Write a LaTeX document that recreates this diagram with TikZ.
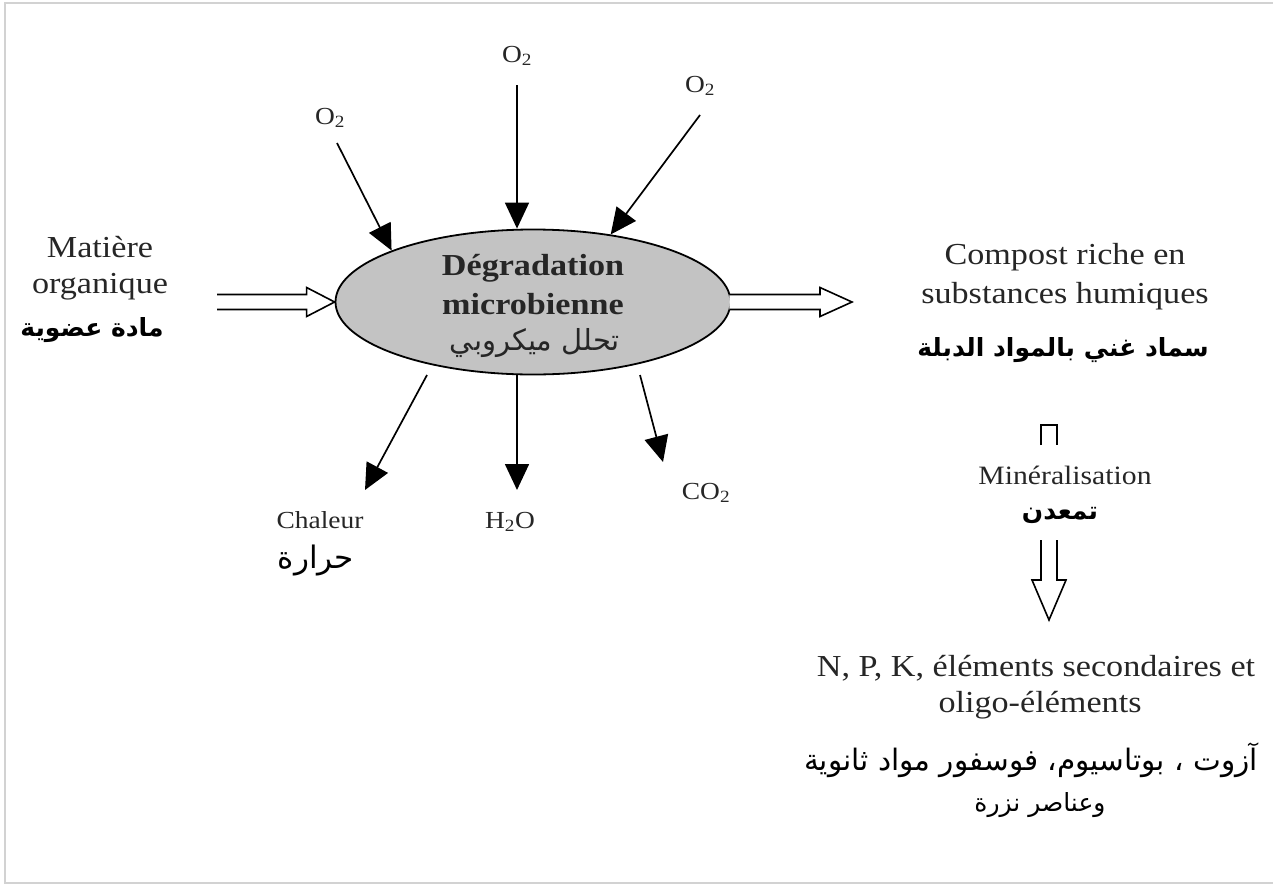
\documentclass[tikz,border=0pt]{standalone}
\usepackage{fontspec}
\setmainfont{Liberation Serif}[FakeStretch=1.12]
\newfontfamily\arabicfont[Script=Arabic]{DejaVu Sans}
\newfontfamily\arabicfontb[Script=Arabic]{DejaVu Sans Bold}
\TeXXeTstate=1
\usetikzlibrary{arrows.meta,shapes.geometric,calc}
\newcommand{\rtl}[1]{\beginR #1\endR}
\begin{document}
\begin{tikzpicture}[x=1pt,y=-1pt,
  lbl/.style={inner sep=0pt, text=black!85, font=\fontsize{30.5}{36}\selectfont},
  sm/.style={inner sep=0pt, text=black!85, font=\fontsize{24.5}{28}\selectfont},
  ar/.style={inner sep=0pt, text=black, font=\arabicfont\fontsize{25}{30}\selectfont},
  arb/.style={inner sep=0pt, text=black, font=\arabicfontb\fontsize{25}{30}\selectfont},
  arr/.style={line width=1.7pt, -{Triangle[length=26pt,width=24pt]}},
  hollow/.style={line width=1.6pt, fill=white, line join=miter}]
\useasboundingbox (0,0) rectangle (1273,886);
\draw[gray!35, line width=2pt] (1273,3) -- (5,3) -- (5,883) -- (1273,883);

% central ellipse
\node[ellipse, draw, line width=1.8pt, fill=gray!47, minimum width=395pt, minimum height=145pt, inner sep=0pt] (deg) at (533,302) {};
\node[lbl, font=\bfseries\fontsize{30.5}{36}\selectfont] (d1) at (533,268) {Dégradation};
\node[lbl, font=\bfseries\fontsize{30.5}{36}\selectfont] (d2) at (533,304) {microbienne};
\node[ar, text=black!85, font=\arabicfont\fontsize{29}{34}\selectfont] (d3) at (535,343) {\rtl{تحلل ميكروبي}};

% left input
\node[lbl] (m1) at (100,247) {Matière};
\node[lbl] (m2) at (100,287) {organique};
\node[arb] (m3) at (92,330) {\rtl{مادة عضوية}};
\coordinate (inL) at (217,302);
\draw[hollow] ($(inL)+(0,-7.5)$) -- ($(deg.west)+(-28,-7.5)$) -- ($(deg.west)+(-28,-14.5)$) -- (deg.west)
  -- ($(deg.west)+(-28,14.5)$) -- ($(deg.west)+(-28,7.5)$) -- ($(inL)+(0,7.5)$);

% right output
\coordinate (outR) at (852,302);
\draw[hollow] ($(deg.east)+(-2,-7.5)$) -- ($(outR)+(-32,-7.5)$) -- ($(outR)+(-32,-14.5)$) -- (outR)
  -- ($(outR)+(-32,14.5)$) -- ($(outR)+(-32,7.5)$) -- ($(deg.east)+(-2,7.5)$);
\node[lbl] (c1) at (1065,257) {Compost riche en};
\node[lbl] (c2) at (1065,296) {substances humiques};
\node[arb] (c3) at (1063,350) {\rtl{سماد غني بالمواد الدبلة}};

% O2 inputs
\node[sm] (o1) at (330,118) {O\textsubscript{2}};
\node[sm] (o2) at (517,56) {O\textsubscript{2}};
\node[sm] (o3) at (700,86) {O\textsubscript{2}};
\coordinate (o1s) at (337,143);
\coordinate (o2s) at (517,85);
\coordinate (o3s) at (700,115);
\draw[arr] (o1s) -- (deg.160);
\draw[arr] (o2s) -- (o2s |- deg.north);
\draw[arr] (o3s) -- (deg.41);

% outputs below
\coordinate (hs) at (427,375);
\coordinate (ws) at (517,375);
\coordinate (cs) at (640,375);
\coordinate (he) at (365,490);
\coordinate (we) at (517,490);
\coordinate (ce) at (663,462);
\draw[arr] (hs) -- (he);
\draw[arr] (ws) -- (we);
\draw[arr] (cs) -- (ce);
\node[sm] (ch) at (320,520) {Chaleur};
\node[ar, font=\arabicfont\fontsize{31}{36}\selectfont] (ch2) at (316,560) {\rtl{حرارة}};
\node[sm] (h2o) at (510,522) {H\textsubscript{2}O};
\node[sm] (co2) at (706,493) {CO\textsubscript{2}};

% mineralisation
\draw[line width=1.5pt] (1041,445) -- (1041,425) -- (1057,425) -- (1057,445);
\node[sm, font=\fontsize{26.5}{30}\selectfont] (min1) at (1065,475) {Minéralisation};
\node[arb] (min2) at (1060,515) {\rtl{تمعدن}};
\coordinate (ds) at (1049,540);
\coordinate (de) at (1049,620);
\draw[hollow] ($(ds)+(-8,0)$) -- ($(de)+(-8,-40)$) -- ($(de)+(-17,-40)$) -- (de)
  -- ($(de)+(17,-40)$) -- ($(de)+(8,-40)$) -- ($(ds)+(8,0)$);

% final products
\node[lbl] (n1) at (1036,668) {N, P, K, éléments secondaires et};
\node[lbl] (n2) at (1040,705) {oligo-éléments};
\node[ar, font=\arabicfont\fontsize{29.5}{34}\selectfont] (n3) at (1031,760) {\rtl{آزوت ، بوتاسيوم، فوسفور مواد ثانوية}};
\node[ar, font=\arabicfont\fontsize{25}{30}\selectfont] (n4) at (1040,805) {\rtl{وعناصر نزرة}};
\end{tikzpicture}
\end{document}
